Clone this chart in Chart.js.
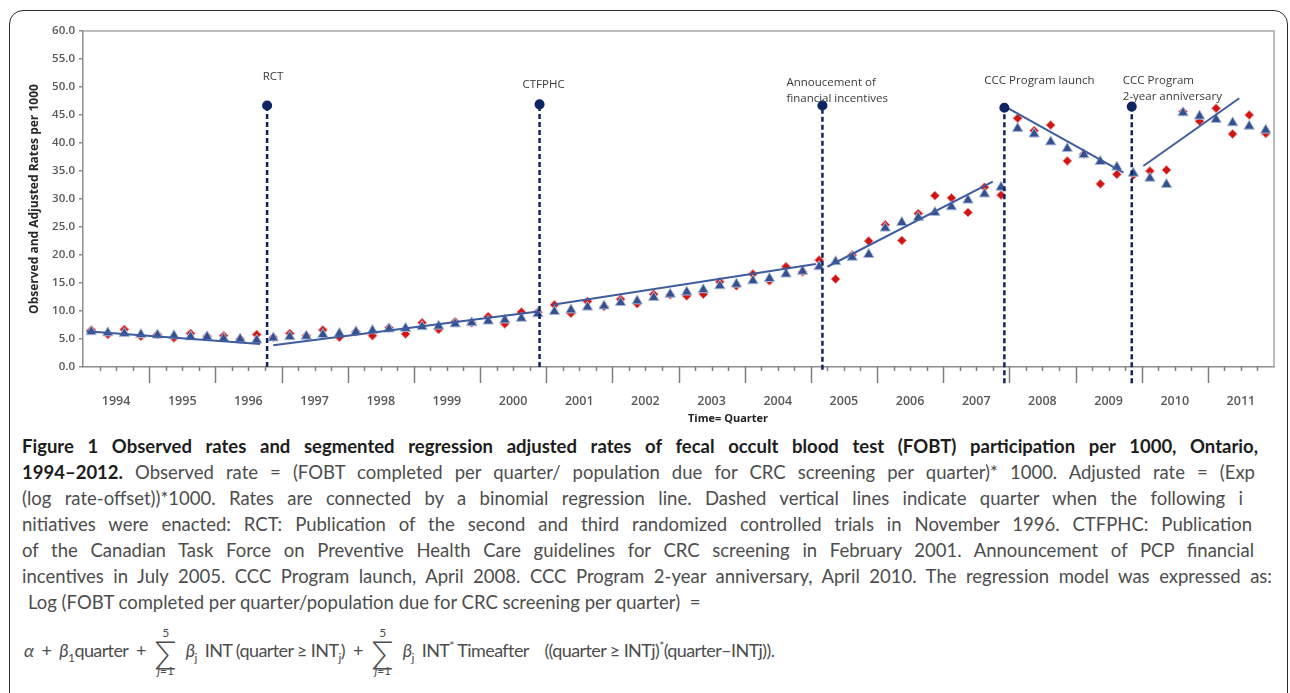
<!DOCTYPE html>
<html lang="en">
<head>
<meta charset="UTF-8">
<title>Figure 1 – FOBT participation per 1000, Ontario</title>
<script src="https://cdn.jsdelivr.net/npm/chart.js"></script>
<style>
  body { margin: 0; background: #fff; width: 1290px; height: 693px; overflow: hidden; position: relative; font-family: Lato, "Open Sans", sans-serif; }
  .frame { position: absolute; left: 9px; top: 10px; width: 1277px; height: 740px; border: 1.5px solid #2b2b2b; border-radius: 14px; }
  #chart { position: absolute; left: 0; top: 0; }
  .cap { position: absolute; left: 22px; white-space: nowrap; font-size: 18.5px; line-height: 26px; color: #4d4d4d; }
  .cap b { color: #1c1c1c; font-weight: 700; }
  .formula { position: absolute; left: 24px; top: 626px; white-space: nowrap; font-size: 18px; letter-spacing: -0.6px; color: #4d4d4d; line-height: 40px; }
  .sum { display: inline-flex; flex-direction: column; align-items: center; vertical-align: middle; line-height: 1; margin: 0 5px; letter-spacing: 0; }
  .sum small { font-size: 12px; }
  .sum span { font-size: 32px; line-height: 26px; font-weight: 300; }
  .formula sub, .formula sup { font-size: 12px; }
</style>
</head>
<body>
<div class="frame"></div>
<canvas id="chart" width="1290" height="430"></canvas>

<div class="cap" style="top:433px" data-w="1236"><b>Figure 1 Observed rates and segmented regression adjusted rates of fecal occult blood test (FOBT) participation per 1000, Ontario,</b></div>
<div class="cap" style="top:459px" data-w="1233"><b>1994–2012.</b> Observed rate = (FOBT completed per quarter/ population due for CRC screening per quarter)* 1000. Adjusted rate = (Exp</div>
<div class="cap" style="top:485px" data-w="1221">(log rate-offset))*1000. Rates are connected by a binomial regression line. Dashed vertical lines indicate quarter when the following i</div>
<div class="cap" style="top:511px" data-w="1230">nitiatives were enacted: RCT: Publication of the second and third randomized controlled trials in November 1996. CTFPHC: Publication</div>
<div class="cap" style="top:537px" data-w="1232">of the Canadian Task Force on Preventive Health Care guidelines for CRC screening in February 2001. Announcement of PCP financial</div>
<div class="cap" style="top:563px" data-w="1250">incentives in July 2005. CCC Program launch, April 2008. CCC Program 2-year anniversary, April 2010. The regression model was expressed as:</div>
<div class="cap" style="top:589px; left:28px">Log (FOBT completed per quarter/population due for CRC screening per quarter) &nbsp;=</div>
<div class="formula">
  <i>α</i> &nbsp;+&nbsp; <i>β</i><sub>1</sub>quarter &nbsp;+
  <span class="sum"><small>5</small><span>∑</span><small><i>j</i>=1</small></span>
  <i>β</i><sub>j</sub> &nbsp;INT (quarter ≥ INT<sub>j</sub>) &nbsp;+
  <span class="sum"><small>5</small><span>∑</span><small><i>j</i>=1</small></span>
  <i>β</i><sub>j</sub> &nbsp;INT<sup>*</sup> Timeafter &nbsp;&nbsp; ((quarter ≥ INTj)<sup>*</sup>(quarter–INTj)).
</div>

<script>
// quarters 1994 Q1 .. 2011 Q4, index 0..71
const years = ['1994', '1995', '1996', '1997', '1998', '1999', '2000', '2001', '2002',
  '2003', '2004', '2005', '2006', '2007', '2008', '2009', '2010', '2011'];

// observed rate per 1000 (red diamonds)
const observed = [
  6.6, 5.8, 6.7, 5.5, 5.8, 5.2, 6.0, 5.5, 5.6, 5.0, 5.8,
  5.3, 6.0, 5.6, 6.6, 5.3, 6.3, 5.6, 7.0, 5.9, 7.9, 6.7, 8.1, 7.9, 9.0, 7.7, 9.8,
  9.8, 11.1, 9.6, 11.7, 10.8, 12.1, 11.3, 13.0, 12.9, 12.7, 13.0, 15.2, 14.5, 16.6, 15.4, 17.9, 17.0, 19.1,
  15.7, 20.0, 22.5, 25.4, 22.6, 27.4, 30.6, 30.2, 27.6, 32.1, 30.7,
  44.4, 42.2, 43.2, 36.8, 38.0, 32.7, 34.4,
  34.3, 35.0, 35.2, 45.6, 43.9, 46.2, 41.6, 45.0, 41.7
];

// adjusted rate per 1000 (blue triangles)
const adjusted = [
  6.3, 6.1, 6.0, 5.8, 5.7, 5.6, 5.4, 5.4, 5.1, 5.0, 4.8,
  5.2, 5.4, 5.5, 5.8, 6.0, 6.3, 6.5, 6.8, 6.9, 7.2, 7.3, 7.7, 7.9, 8.2, 8.4, 8.7,
  9.5, 9.9, 10.2, 10.7, 10.9, 11.5, 11.8, 12.4, 13.0, 13.4, 13.8, 14.5, 14.8, 15.4, 15.8, 16.6, 17.1, 17.9,
  18.8, 19.6, 20.1, 24.8, 25.8, 26.7, 27.6, 28.6, 29.8, 30.9, 32.1,
  42.6, 41.6, 40.2, 39.0, 37.9, 36.7, 35.7,
  34.6, 33.7, 32.6, 45.4, 44.8, 44.2, 43.6, 43.0, 42.3
];

// segmented regression lines (start / end quarter and rate)
const fitStartQ = [-0.3, 11.0, 27.9, 44.5, 55.25, 63.6];
const fitStartRate = [6.4, 3.9, 11.1, 17.9, 46.5, 35.9];
const fitEndQ = [10.2, 27.0, 43.8, 54.5, 62.4, 69.4];
const fitEndRate = [4.1, 9.9, 18.4, 33.1, 34.7, 48.0];

// initiatives (dashed vertical lines)
const initiatives = ['RCT', 'CTFPHC', ['Annoucement of', 'financial incentives'],
  'CCC Program launch', ['CCC Program', '2-year anniversary']];
const initiativeQ = [10.63, 27.1, 44.2, 55.2, 62.9];
const initiativeTop = [46.7, 46.9, 46.7, 46.3, 46.5];
const initiativeBottom = [0, 0, -0.5, -2.9, -2.9];

const navy = '#0f2463';

const datasets = [];

initiativeQ.forEach((q, k) => {
  datasets.push({
    type: 'line',
    data: [{ x: q, y: initiativeBottom[k] }, { x: q, y: initiativeTop[k] }],
    borderColor: navy,
    borderWidth: 2.5,
    borderDash: [5, 3],
    pointRadius: [0, 3.8],
    pointBackgroundColor: navy,
    pointBorderColor: navy,
    clip: false,
    order: 0
  });
});

fitStartQ.forEach((q, k) => {
  datasets.push({
    type: 'line',
    data: [{ x: q, y: fitStartRate[k] }, { x: fitEndQ[k], y: fitEndRate[k] }],
    borderColor: '#3f5c9e',
    borderWidth: 2,
    pointRadius: 0,
    order: 1
  });
});

datasets.push({
  label: 'Adjusted',
  data: adjusted.map((v, i) => ({ x: i, y: v })),
  pointStyle: 'triangle',
  pointRadius: 6,
  backgroundColor: '#34508f',
  borderColor: '#aab9d9',
  borderWidth: 1,
  order: 2
});

datasets.push({
  label: 'Observed',
  data: observed.map((v, i) => ({ x: i, y: v })),
  pointStyle: 'rectRot',
  pointRadius: 4.5,
  backgroundColor: '#d01515',
  borderColor: '#ee8a8a',
  borderWidth: 1,
  order: 3
});

// label offsets relative to the line (px)
const labelDx = [6, 4, -36, -20, -9];
const labelY = [77, 85, 83, 81, 81];
const labelAlign = ['center', 'center', 'left', 'left', 'left'];

const decor = {
  id: 'decor',
  afterDraw(chart) {
    const { ctx, chartArea: a, scales: { x } } = chart;
    ctx.save();
    // top and right frame of the plot
    ctx.strokeStyle = '#a6a6a6';
    ctx.lineWidth = 1.5;
    ctx.beginPath();
    ctx.moveTo(a.left, a.top);
    ctx.lineTo(a.right, a.top);
    ctx.lineTo(a.right, a.bottom);
    ctx.stroke();

    // quarter / year tick marks
    ctx.strokeStyle = '#7f7f7f';
    ctx.lineWidth = 1.5;
    for (let q = 1; q < 72; q++) {
      const px = Math.round(x.getPixelForValue(q - 0.5)) + 0.5;
      const len = q % 4 === 0 ? 16 : 4;
      ctx.beginPath();
      ctx.moveTo(px, a.bottom);
      ctx.lineTo(px, a.bottom + len);
      ctx.stroke();
    }

    // initiative labels
    ctx.fillStyle = '#3a3a3a';
    ctx.font = '11.5px "Open Sans"';
    ctx.textBaseline = 'middle';
    initiatives.forEach((t, k) => {
      const lines = Array.isArray(t) ? t : [t];
      const px = x.getPixelForValue(initiativeQ[k]) + labelDx[k];
      ctx.textAlign = labelAlign[k];
      lines.forEach((s, j) => ctx.fillText(s, px, labelY[k] + j * 16));
    });

    // x axis title
    ctx.fillStyle = '#222';
    ctx.font = 'bold 11px "Open Sans"';
    ctx.textAlign = 'center';
    ctx.fillText('Time= Quarter', 728, 419);
    ctx.restore();
  }
};

new Chart(document.getElementById('chart'), {
  type: 'scatter',
  data: { datasets },
  options: {
    responsive: false,
    animation: false,
    events: [],
    layout: { padding: { left: 20, top: 31, right: 16, bottom: 0 } },
    plugins: { legend: { display: false }, tooltip: { enabled: false } },
    scales: {
      x: {
        type: 'linear',
        min: -0.5,
        max: 71.5,
        afterFit: s => { s.height = 63; },
        afterBuildTicks: s => { s.ticks = years.map((yr, k) => ({ value: 4 * k + 1.5 })); },
        grid: { display: false },
        border: { display: true, color: '#8c8c8c', width: 1.5 },
        ticks: {
          autoSkip: false,
          maxRotation: 0,
          padding: 19,
          color: '#595959',
          font: { family: 'Open Sans', size: 12.5, weight: '600' },
          callback: (v, i) => years[i]
        }
      },
      y: {
        min: 0,
        max: 60,
        afterFit: s => { s.width = 63; },
        grid: { drawOnChartArea: false, drawTicks: true, tickLength: 4, color: '#8c8c8c', lineWidth: 1.5 },
        border: { display: true, color: '#8c8c8c', width: 1.5 },
        ticks: {
          stepSize: 5,
          padding: 4,
          color: '#595959',
          font: { family: 'Open Sans', size: 11.5, weight: '600' },
          callback: v => v.toFixed(1)
        },
        title: {
          display: true,
          text: 'Observed and Adjusted Rates per 1000',
          color: '#262626',
          font: { family: 'Open Sans', size: 12, weight: 'bold' },
          padding: { top: 7, bottom: 0 }
        }
      }
    }
  },
  plugins: [decor]
});

// justify each caption line to its width in the figure
function fitLines() {
  document.querySelectorAll('.cap[data-w]').forEach(el => {
    el.style.wordSpacing = '0px';
    el.style.letterSpacing = '0px';
    const target = +el.dataset.w;
    const natural = el.getBoundingClientRect().width;
    const spaces = (el.textContent.trim().match(/ /g) || []).length;
    const diff = target - natural;
    if (diff >= 0 && spaces) {
      el.style.wordSpacing = (diff / spaces) + 'px';
    } else {
      el.style.letterSpacing = (diff / el.textContent.trim().length) + 'px';
    }
  });
}
fitLines();
document.fonts.ready.then(fitLines);
</script>
</body>
</html>
